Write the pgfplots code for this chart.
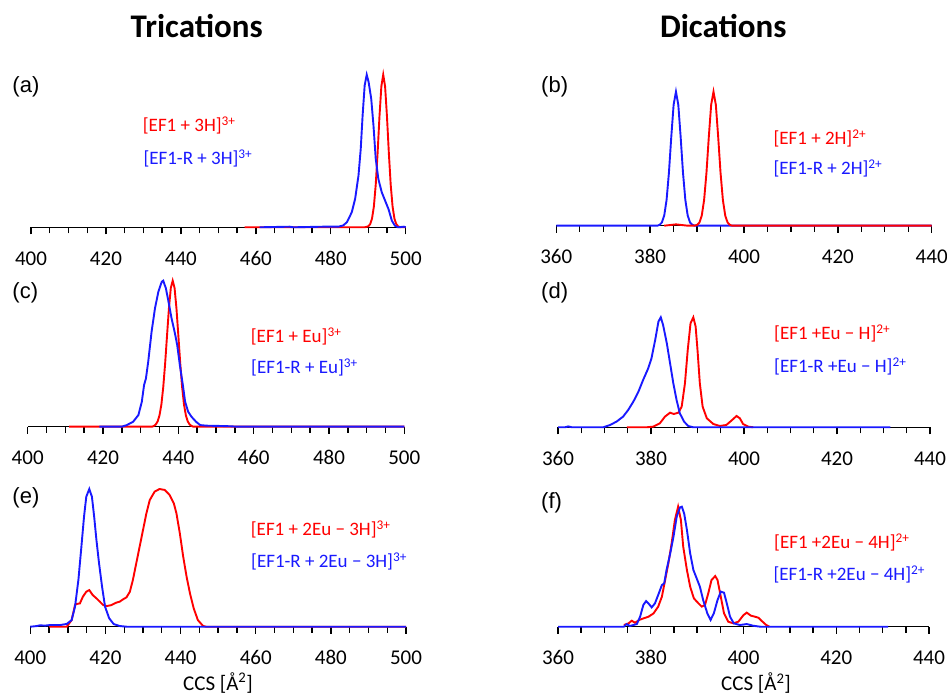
\documentclass[border=0pt]{standalone}
\usepackage{pgfplots}
\pgfplotsset{compat=1.18}
\usepackage{fontspec}
\setmainfont{Carlito}
\newfontfamily\arialfont{Liberation Sans}
\definecolor{cred}{RGB}{255,0,0}
\definecolor{cblue}{RGB}{25,25,255}

\pgfplotsset{
  ccs/.style={
    anchor=south west, scale only axis, clip=false,
    ymin=0, ymax=1,
    axis y line=none, axis x line*=bottom,
    axis line style={black, line width=1.5pt},
    tick align=outside,
    major tick length=7pt, minor tick length=6pt,
    minor x tick num=3,
    every tick/.style={black, line width=1.4pt},
    xticklabel style={font=\fontsize{21}{25}\selectfont, anchor=base, yshift=-31pt},
    /pgf/number format/assume math mode=true,
  },
  tri/.style={ccs, xmin=400, xmax=500, xtick={400,420,...,500}},
  di/.style={ccs, xmin=360, xmax=440, xtick={360,380,...,440}},
  rl/.style={cred, line width=1.9pt, mark=none},
  bl/.style={cblue, line width=1.9pt, mark=none},
}
\newcommand{\lgd}{\fontsize{19}{23}\selectfont}
\newcommand{\pl}{\arialfont\fontsize{22}{26}\selectfont}

\begin{document}
\begin{tikzpicture}[x=1pt, y=1pt]
\useasboundingbox (0,0) rectangle (947,696);

% (a) tricatons, protonated
\begin{axis}[tri, at={(31pt,468.7pt)}, width=374.7pt, height=152.6pt]
\addplot[rl] coordinates {(457,0)(489,0)(490,0.006)(490.5,0.020)(491,0.056)(491.5,0.135)(492,0.278)(492.5,0.487)(493,0.726)(493.5,0.923)(494,1)(494.5,0.923)(495,0.726)(495.5,0.487)(496,0.278)(496.5,0.135)(497,0.056)(497.5,0.020)(498,0.006)(498.5,0)(500,0)};
\addplot[bl] coordinates {(461,0)(469,0.004)(470,0)(478,0.004)(482,0.004)(483.3,0.012)(484.3,0.033)(485.6,0.098)(486.5,0.186)(487.4,0.339)(488,0.514)(488.5,0.733)(489.05,0.93)(489.6,1)(490.1,0.952)(490.8,0.842)(491.4,0.667)(492,0.449)(492.7,0.317)(493.6,0.23)(494.5,0.175)(495.4,0.12)(496.3,0.044)(497.1,0.011)(498,0)(499.5,0.004)(500,0)};
\end{axis}

% (b)
\begin{axis}[di, at={(556.3pt,470.3pt)}, width=375.4pt, height=134pt]
\addplot[bl] coordinates {(360,0)(381.5,0)(382,0.006)(382.5,0.024)(383,0.076)(383.5,0.192)(384,0.395)(384.5,0.662)(385,0.902)(385.5,1)(386,0.902)(386.5,0.662)(387,0.395)(387.5,0.192)(388,0.076)(388.5,0.024)(389,0.006)(389.5,0.001)(390,0)(440,0)};
\addplot[rl] coordinates {(383,0)(384.5,0.006)(385.5,0.01)(386.5,0.006)(388,0)(389.5,0.001)(390,0.006)(390.5,0.024)(391,0.076)(391.5,0.192)(392,0.395)(392.5,0.662)(393,0.902)(393.5,1)(394,0.902)(394.5,0.662)(395,0.395)(395.5,0.192)(396,0.076)(396.5,0.024)(397,0.006)(397.5,0)(440,0)};
\end{axis}

% (c)
\begin{axis}[tri, at={(27.7pt,269.3pt)}, width=376.6pt, height=146pt]
\addplot[rl] coordinates {(411,0)(433,0)(433.5,0.005)(434,0.015)(434.5,0.036)(435,0.078)(435.5,0.152)(436,0.273)(436.5,0.435)(437,0.625)(437.5,0.810)(438,0.950)(438.5,1)(439,0.950)(439.5,0.810)(440,0.625)(440.5,0.435)(441,0.273)(441.5,0.152)(442,0.078)(442.5,0.036)(443,0.015)(443.5,0.005)(444,0)(500,0)};
\addplot[bl] coordinates {(419,0)(425,0)(426.3,0.011)(428,0.034)(429.4,0.08)(430.3,0.171)(430.9,0.285)(431.4,0.331)(432,0.445)(432.9,0.651)(433.8,0.811)(434.7,0.925)(435.6,0.993)(436,1)(436.7,0.947)(437.3,0.868)(438.2,0.742)(439.1,0.639)(439.7,0.559)(440.4,0.422)(441.2,0.285)(441.8,0.171)(442.6,0.103)(443.5,0.068)(444.7,0.034)(445.8,0.011)(447.5,0.007)(451.1,0.005)(453.8,0.003)(455.6,0)(500,0)};
\end{axis}

% (d)
\begin{axis}[di, at={(558pt,268.7pt)}, width=372pt, height=110pt]
\addplot[rl] coordinates {(374.8,0)(379,0)(380.5,0.006)(381.9,0.036)(383,0.097)(384.1,0.133)(384.9,0.121)(385.9,0.133)(386.6,0.188)(387.3,0.4)(387.9,0.703)(388.5,0.945)(389.1,1)(389.6,0.915)(390,0.703)(390.5,0.4)(391.1,0.188)(392,0.082)(393.4,0.03)(394.8,0.012)(396.2,0.021)(397.3,0.061)(398.4,0.103)(399.1,0.082)(399.8,0.03)(400.9,0.006)(402,0)};
\addplot[bl] coordinates {(360,0)(361.5,0)(362.2,0.008)(363,0)(369.7,0)(371.2,0.021)(372.6,0.052)(374,0.097)(375.1,0.158)(376.2,0.233)(377.3,0.324)(378.3,0.43)(379.4,0.536)(380.1,0.627)(380.9,0.794)(381.6,0.961)(382.1,1)(382.6,0.93)(383.4,0.764)(384.1,0.582)(384.8,0.4)(385.5,0.248)(386.2,0.127)(387.1,0.052)(388,0.012)(389.1,0)(431.5,0)};
\end{axis}

% (e)
\begin{axis}[tri, at={(30.3pt,69.3pt)}, width=375.7pt, height=137.7pt]
\addplot[rl] coordinates {(405,0)(409.7,0)(411,0.048)(411.9,0.157)(412.3,0.165)(413.2,0.169)(414,0.218)(414.9,0.254)(415.7,0.266)(416.6,0.23)(417.6,0.206)(418.5,0.182)(419.4,0.157)(420.4,0.15)(421.6,0.157)(422.8,0.174)(423.8,0.182)(424.7,0.199)(425.6,0.213)(426.5,0.254)(427.3,0.339)(428.2,0.46)(429.1,0.581)(430,0.702)(430.9,0.823)(431.8,0.92)(433.1,0.981)(434.4,1)(435.8,0.993)(437.1,0.956)(438.2,0.896)(438.9,0.823)(439.8,0.678)(440.7,0.508)(441.6,0.363)(442.5,0.242)(443.5,0.133)(444.6,0.048)(446,0.005)(446.8,0)(500,0)};
\addplot[bl] coordinates {(400,0)(401.5,0.004)(402.6,0.01)(404,0.008)(405.2,0.012)(407.9,0.012)(409.7,0.02)(411,0.048)(411.9,0.145)(412.8,0.339)(413.6,0.581)(414.3,0.799)(414.9,0.944)(415.7,1)(416.4,0.944)(417,0.799)(417.6,0.63)(418.3,0.46)(419.1,0.291)(419.9,0.145)(421,0.061)(422.2,0.019)(423.8,0.005)(425.6,0)(500,0)};
\end{axis}

% (f)
\begin{axis}[di, at={(558pt,69.3pt)}, width=371pt, height=120pt]
\addplot[rl] coordinates {(374.2,0.014)(375.2,0.028)(375.9,0.05)(376.6,0.033)(377.5,0.056)(378.4,0.069)(379.5,0.083)(380.6,0.111)(381.6,0.167)(382.4,0.25)(383.1,0.389)(383.8,0.528)(384.5,0.694)(385.2,0.889)(385.9,1)(386.5,0.889)(387,0.667)(387.8,0.472)(388.5,0.333)(389.3,0.236)(390.3,0.194)(391,0.167)(391.7,0.181)(392.4,0.278)(393.1,0.389)(393.9,0.422)(394.4,0.389)(395.1,0.25)(395.8,0.111)(396.7,0.042)(397.8,0.028)(398.9,0.042)(400,0.097)(400.7,0.117)(401.6,0.092)(402.5,0.083)(403.2,0.075)(404.1,0.042)(404.9,0.014)(405.6,0)};
\addplot[bl] coordinates {(360,0)(374.2,0)(374.8,0.022)(375.5,0.006)(377,0.022)(377.7,0.083)(378.4,0.181)(379,0.214)(379.5,0.194)(380.2,0.161)(380.9,0.194)(381.6,0.264)(382.4,0.347)(382.9,0.361)(383.4,0.472)(384.2,0.611)(384.9,0.75)(385.6,0.917)(386.3,0.994)(386.7,1)(387.2,0.944)(387.8,0.806)(388.5,0.611)(389.2,0.472)(389.9,0.403)(390.6,0.333)(391.3,0.222)(392.2,0.111)(392.9,0.056)(393.6,0.111)(394.4,0.222)(395.1,0.292)(395.8,0.283)(396.4,0.194)(397.1,0.083)(397.9,0.028)(399.2,0.014)(400.7,0.022)(402.1,0.008)(403.6,0)(431.2,0)};
\end{axis}

% titles and panel letters
\node[anchor=base, font=\fontsize{33}{38}\selectfont\bfseries] at (196.7,658.5) {Trications};
\node[anchor=base, font=\fontsize{33}{38}\selectfont\bfseries] at (723.3,658.5) {Dications};
\node[anchor=base west, inner sep=0pt, font=\pl] at (12.3,603.3) {(a)};
\node[anchor=base west, inner sep=0pt, font=\pl] at (541,603.7) {(b)};
\node[anchor=base west, inner sep=0pt, font=\pl] at (12.3,397.7) {(c)};
\node[anchor=base west, inner sep=0pt, font=\pl] at (541,397.7) {(d)};
\node[anchor=base west, inner sep=0pt, font=\pl] at (12.3,192.7) {(e)};
\node[anchor=base west, inner sep=0pt, font=\pl] at (541,187.7) {(f)};

% legends
\begin{scope}[every node/.style={anchor=base west, inner sep=0pt, font=\lgd}]
\node[text=cred] at (142.7,564.3) {[EF1 + 3H]\textsuperscript{3+}};
\node[text=cblue] at (143.3,531.5) {[EF1-R + 3H]\textsuperscript{3+}};
\node[text=cred] at (773.3,551) {[EF1 + 2H]\textsuperscript{2+}};
\node[text=cblue] at (773.3,521) {[EF1-R + 2H]\textsuperscript{2+}};
\node[text=cred] at (250.7,353.3) {[EF1 + Eu]\textsuperscript{3+}};
\node[text=cblue] at (251,322.7) {[EF1-R + Eu]\textsuperscript{3+}};
\node[text=cred] at (774,356) {[EF1 +Eu − H]\textsuperscript{2+}};
\node[text=cblue] at (774,323.3) {[EF1-R +Eu − H]\textsuperscript{2+}};
\node[text=cred] at (250.7,160) {[EF1 + 2Eu − 3H]\textsuperscript{3+}};
\node[text=cblue] at (251,128.7) {[EF1-R + 2Eu − 3H]\textsuperscript{3+}};
\node[text=cred] at (774,147.7) {[EF1 +2Eu − 4H]\textsuperscript{2+}};
\node[text=cblue] at (773.3,115) {[EF1-R +2Eu − 4H]\textsuperscript{2+}};
\end{scope}

% axis titles
\node[anchor=base, font=\fontsize{21}{25}\selectfont] at (218,6) {CCS [Å\textsuperscript{2}]};
\node[anchor=base, font=\fontsize{21}{25}\selectfont] at (756,5.3) {CCS [Å\textsuperscript{2}]};
\end{tikzpicture}
\end{document}
